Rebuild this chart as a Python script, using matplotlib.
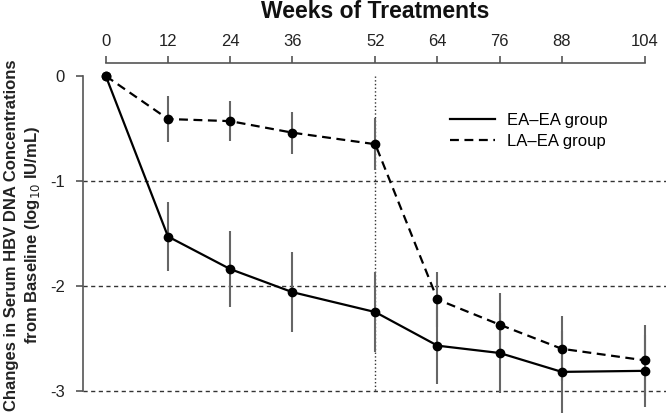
import numpy as np
import matplotlib
matplotlib.use("Agg")
import matplotlib.pyplot as plt
from matplotlib.lines import Line2D

# -------------------------------
# Data
# -------------------------------
weeks = [0, 12, 24, 36, 52, 64, 76, 88, 104]

ea_mean = [0, -1.53, -1.84, -2.06, -2.25, -2.57, -2.64, -2.82, -2.81]
ea_err = [0, 0.33, 0.36, 0.38, 0.38, 0.37, 0.38, 0.39, 0.34]

la_mean = [0, -0.41, -0.43, -0.54, -0.65, -2.13, -2.37, -2.60, -2.71]
la_err = [0, 0.22, 0.19, 0.20, 0.25, 0.26, 0.30, 0.31, 0.34]

y_ticks = [0, -1, -2, -3]
ref_lines = [-1, -2, -3]
switch_week = 52

# -------------------------------
# Figure
# -------------------------------
plt.rcParams["font.family"] = ["Liberation Sans", "DejaVu Sans"]
plt.rcParams["axes.unicode_minus"] = False

fig = plt.figure(figsize=(6.66, 4.17), dpi=100)
ax = fig.add_axes([83 / 666, 0, 1 - 83 / 666, 1 - 63 / 417])

ax.set_xlim(-4.4, 108.1)
ax.set_ylim(-3.25, 0.124)

axis_col = "#555555"
dash_style = (0, (4, 2.5))

# reference lines
for y in ref_lines:
    ax.axhline(y, color="#333333", lw=1, ls=(0, (3, 2.5)), zorder=1)
ax.plot([switch_week, switch_week], [0, -3], color="#333333", lw=1, ls=":", zorder=1)

# error bars
ax.errorbar(weeks[1:], ea_mean[1:], yerr=ea_err[1:], fmt="none",
            ecolor="#666666", elinewidth=1.5, capsize=0, zorder=2)
ax.errorbar(weeks[1:], la_mean[1:], yerr=la_err[1:], fmt="none",
            ecolor="#666666", elinewidth=1.5, capsize=0, zorder=2)

# series
ax.plot(weeks, ea_mean, color="black", lw=1.6, marker="o", ms=6, zorder=3)
ax.plot(weeks, la_mean, color="black", lw=1.6, ls=dash_style, marker="o", ms=6,
        zorder=3)

# axes styling
ax.spines["right"].set_visible(False)
ax.spines["bottom"].set_visible(False)
ax.spines["top"].set_bounds(0, 104)
ax.spines["left"].set_bounds(-3, 0)
for s in ("top", "left"):
    ax.spines[s].set_color(axis_col)
    ax.spines[s].set_linewidth(1.2)

ax.xaxis.tick_top()
ax.set_xticks(weeks)
ax.set_xticklabels([str(w) for w in weeks])
ax.set_yticks(y_ticks)
ax.set_yticklabels([str(t) for t in y_ticks])
ax.tick_params(axis="both", colors=axis_col, labelcolor="#222222",
               labelsize=12, length=5, width=1.2)
ax.tick_params(axis="x", pad=5)
ax.tick_params(axis="y", pad=8)

handles = [
    Line2D([], [], color="black", lw=1.6, label="EA\u2013EA group"),
    Line2D([], [], color="black", lw=1.6, ls=dash_style, label="LA\u2013EA group"),
]
ax.legend(handles=handles, loc="upper left",
          bbox_to_anchor=(450 / 666, 1 - 113 / 417), bbox_transform=fig.transFigure,
          frameon=False, fontsize=12, handlelength=2.7, handletextpad=0.7,
          labelspacing=0.35, borderpad=0, borderaxespad=0)

fig.text(375 / 666, 1 - 12 / 417, "Weeks of Treatments", ha="center", va="center",
         fontsize=16.5, fontweight="bold", color="#111111")
fig.text(23 / 666, 1 - 235 / 417,
         "Changes in Serum HBV DNA Concentrations\nfrom Baseline (log$_{10}$ IU/mL)",
         ha="center", va="center", rotation=90, fontsize=12, fontweight="bold",
         color="#222222", linespacing=1.3)

fig.savefig("out.png", dpi=100)
plt.close(fig)
